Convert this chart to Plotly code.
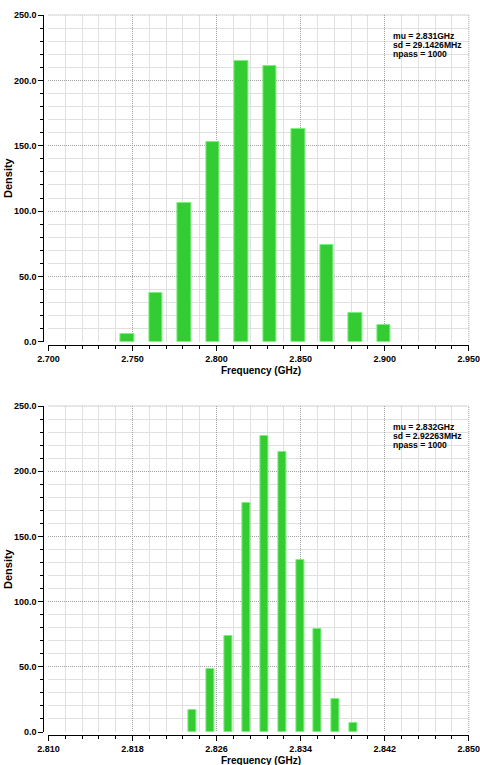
import plotly.graph_objects as go

# ---- data ----
freq_top = [2.7470, 2.7639, 2.7809, 2.7978, 2.8148, 2.8317, 2.8486, 2.8656, 2.8825, 2.8995]
dens_top = [6, 37, 106, 153, 215, 211, 163, 74, 22, 13]
freq_bot = [2.82373, 2.82543, 2.82713, 2.82883, 2.83053, 2.83223, 2.83393, 2.83563, 2.83733, 2.83903]
dens_bot = [17, 48, 74, 176, 227, 215, 132, 79, 25, 7]
stats_top = ["mu = 2.831GHz", "sd = 29.1426MHz", "npass = 1000"]
stats_bot = ["mu = 2.832GHz", "sd = 2.92263MHz", "npass = 1000"]

W, H = 480, 765
FONT = "Liberation Sans, Arial, sans-serif"

def px(x):
    return x / W

def py(y):
    return 1 - y / H

fig = go.Figure()
fig.add_trace(go.Bar(x=freq_top, y=dens_top, width=0.0079, xaxis="x", yaxis="y",
                     marker=dict(color="#33cc33", line=dict(color="#7cf07c", width=1)),
                     showlegend=False))
fig.add_trace(go.Bar(x=freq_bot, y=dens_bot, width=0.00076, xaxis="x2", yaxis="y2",
                     marker=dict(color="#33cc33", line=dict(color="#7cf07c", width=1)),
                     showlegend=False))

tickfont = dict(family=FONT, size=9, color="black", weight="bold")
major_grid = dict(showgrid=True, gridcolor="#a0a0a0", griddash="1px,1px", gridwidth=1)

def xaxis_cfg(domain, rng, tick0, dtick, mdtick, pos):
    return dict(domain=domain, range=rng, tick0=tick0, dtick=dtick, tickformat=".3f",
                anchor="free", position=pos, showline=True, linecolor="black", linewidth=1,
                ticks="outside", ticklen=5, tickcolor="black", tickwidth=1, automargin=False,
                ticklabeloverflow="allow",
                tickfont=tickfont, zeroline=False, **major_grid,
                minor=dict(dtick=mdtick, tick0=tick0, ticks="outside", ticklen=3,
                           tickcolor="black", showgrid=True, gridcolor="#e0e0e0",
                           griddash="solid"))

def yaxis_cfg(domain, pos):
    return dict(domain=domain, range=[0, 250], tick0=0, dtick=50, tickformat=".1f",
                anchor="free", position=pos, showline=True, linecolor="black", linewidth=1,
                ticks="outside", ticklen=5, tickcolor="black", tickwidth=1, automargin=False,
                ticklabeloverflow="allow",
                tickfont=tickfont, zeroline=False, **major_grid,
                minor=dict(dtick=10, tick0=0, ticks="outside", ticklen=3,
                           tickcolor="black", showgrid=True, gridcolor="#e0e0e0",
                           griddash="solid"))

top_x = [px(48.4), px(468.8)]
top_y = [py(341.8), py(15)]
bot_x = [px(48.4), px(468.8)]
bot_y = [py(732), py(406)]

fig.update_layout(
    template="none",
    width=W, height=H, autosize=False,
    margin=dict(l=0, r=0, t=0, b=0, pad=0),
    paper_bgcolor="white", plot_bgcolor="white",
    bargap=0,
    xaxis=xaxis_cfg(top_x, [2.7, 2.95], 2.7, 0.05, 0.01, py(345)),
    yaxis=yaxis_cfg(top_y, px(43.3)),
    xaxis2=xaxis_cfg(bot_x, [2.81, 2.85], 2.81, 0.008, 0.0016, py(735)),
    yaxis2=yaxis_cfg(bot_y, px(43.3)),
)

# dotted border top and right
for (xd, yd) in [(top_x, top_y), (bot_x, bot_y)]:
    fig.add_shape(type="line", xref="paper", yref="paper", x0=xd[0], x1=xd[1], y0=yd[1], y1=yd[1],
                  line=dict(color="#a0a0a0", width=1, dash="1px,1px"))
    fig.add_shape(type="line", xref="paper", yref="paper", x0=xd[1], x1=xd[1], y0=yd[0], y1=yd[1],
                  line=dict(color="#a0a0a0", width=1, dash="1px,1px"))

annots = []
for yc, ys in [(370.7, 178), (760.5, 569)]:
    annots.append(dict(text="Frequency (GHz)", xref="paper", yref="paper", x=px(260.8), y=py(yc),
                       xanchor="center", yanchor="middle", showarrow=False,
                       font=dict(family=FONT, size=10, color="black", weight="bold")))
    annots.append(dict(text="Density", xref="paper", yref="paper", x=px(8), y=py(ys),
                       xanchor="center", yanchor="middle", showarrow=False, textangle=-90,
                       font=dict(family=FONT, size=11, color="black", weight="bold")))

for y0, stats in [(36, stats_top), (426.7, stats_bot)]:
    for i, s in enumerate(stats):
        annots.append(dict(text=s, xref="paper", yref="paper", x=px(392), y=py(y0 + 9 * i),
                           xanchor="left", yanchor="middle", showarrow=False, borderpad=0,
                           font=dict(family=FONT, size=8.6, color="black", weight="bold")))

fig.update_layout(annotations=annots)
fig.write_html("out.html")
